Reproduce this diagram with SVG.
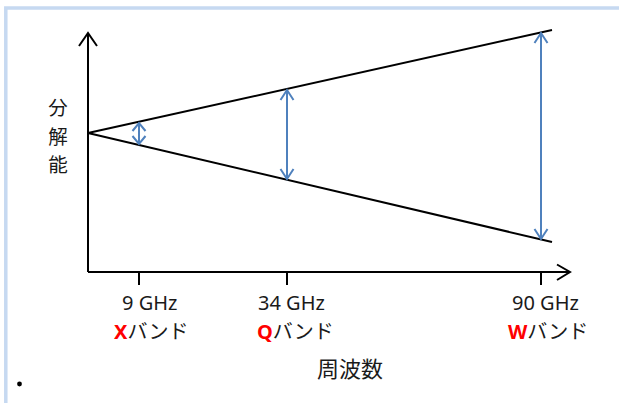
<svg xmlns="http://www.w3.org/2000/svg" width="619" height="403" viewBox="0 0 619 403">
<style>
.ax{stroke:#000;stroke-width:2;fill:none}
.bl{stroke:#4F81BD;stroke-width:2;fill:none}
.t{font-family:"Noto Sans","Noto Sans CJK JP",sans-serif;font-size:20px;fill:#1a1a1a}
.j{font-family:"Noto Sans CJK JP",sans-serif;font-size:22px;fill:#1a1a1a}
.y{font-family:"Noto Sans CJK JP",sans-serif;font-size:19.5px;fill:#1a1a1a}
.r{fill:#FF0000;font-weight:bold}
</style>
<rect width="619" height="403" fill="#fff"/>
<g id="frame">
<path d="M5.8,403 V8 H619" stroke="#C6D9F1" stroke-width="3.5" fill="none"/>
</g>
<g id="axes">
<path class="ax" d="M88,272 V33 M79,46 L88,33 L97,46"/>
<path class="ax" d="M88,272 H570 M557,264.5 L570,272 L557,280"/>
<path class="ax" d="M139,272 V285 M287,272 V285 M541,272 V285"/>
</g>
<g id="connectors">
<path class="ax" d="M88,133 L552,30"/>
<path class="ax" d="M88,133 L552,242"/>
<path class="bl" d="M139,123 V144 M132.5,131 L139,123 L145.5,131 M132.5,136 L139,144 L145.5,136"/>
<path class="bl" d="M287,90 V179 M280.5,100 L287,90 L293.5,100 M280.5,169 L287,179 L293.5,169"/>
<path class="bl" d="M541,33 V239 M534.5,43 L541,33 L547.5,43 M534.5,229 L541,239 L547.5,229"/>
</g>
<g id="ylabel">
<text class="y" x="58" y="115" text-anchor="middle">分</text>
<text class="y" x="58" y="143.5" text-anchor="middle">解</text>
<text class="y" x="58" y="172" text-anchor="middle">能</text>
</g>
<g id="x-band">
<text class="t" x="122" y="310">9 GHz</text>
<text class="t" x="114" y="339"><tspan class="r">X</tspan>バンド</text>
</g>
<g id="q-band">
<text class="t" x="258" y="310">34 GHz</text>
<text class="t" x="257" y="339"><tspan class="r">Q</tspan>バンド</text>
</g>
<g id="w-band">
<text class="t" x="512" y="310">90 GHz</text>
<text class="t" x="508" y="339"><tspan class="r">W</tspan>バンド</text>
</g>
<g id="xlabel">
<text class="j" x="350" y="377" text-anchor="middle">周波数</text>
</g>
<circle cx="19.5" cy="384" r="2.4" fill="#000"/>
</svg>
